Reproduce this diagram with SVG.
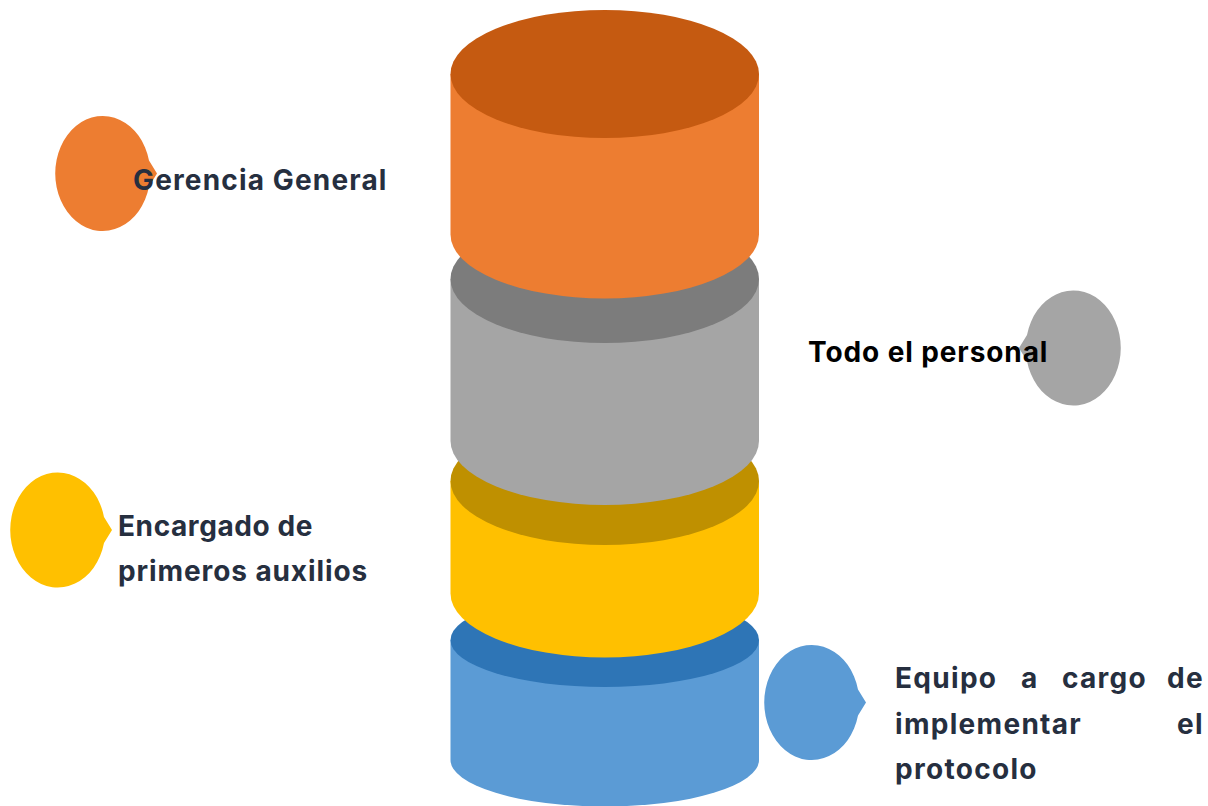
<svg xmlns="http://www.w3.org/2000/svg" width="1208" height="806" viewBox="0 0 1208 806">
<style>
.t{font-family:Inter,"Liberation Sans",sans-serif;font-weight:700;font-size:28px;letter-spacing:.9px;fill:#262f3f}
.k{fill:#000}
.e{letter-spacing:.6px}
.g{letter-spacing:1.15px}
.w{letter-spacing:1.3px}
</style>
<rect width="1208" height="806" fill="#fff"/>
<g id="connectors"/>
<g id="layer-blue">
<path d="M450.500 640V760A154.250 46.500 0 0 0 759 760V640Z" fill="#5b9bd5"/>
<ellipse cx="604.750" cy="640" rx="154.250" ry="47" fill="#2e75b6"/>
</g>
<g id="layer-yellow">
<path d="M450.500 481V593.500A154.250 64 0 0 0 759 593.500V481Z" fill="#ffc000"/>
<ellipse cx="604.750" cy="481" rx="154.250" ry="64" fill="#bf9000"/>
</g>
<g id="layer-gray">
<path d="M450.500 279V441A154.250 64 0 0 0 759 441V279Z" fill="#a5a5a5"/>
<ellipse cx="604.750" cy="279" rx="154.250" ry="64" fill="#7c7c7c"/>
</g>
<g id="layer-orange">
<path d="M450.500 74V234.500A154.250 64 0 0 0 759 234.500V74Z" fill="#ed7d31"/>
<ellipse cx="604.750" cy="74" rx="154.250" ry="64" fill="#c55a11"/>
</g>
<g id="bubble-orange">
<path d="M149 160.500A47.500 57.500 0 1 0 149 186.500L157 173.500Z" fill="#ed7d31"/>
<text class="t g" x="133" y="190">Gerencia General</text>
</g>
<g id="bubble-gray">
<path d="M1027 335A47.500 57.500 0 1 1 1027 361L1019 348Z" fill="#a5a5a5"/>
<text class="t k" x="808" y="362">Todo el personal</text>
</g>
<g id="bubble-yellow">
<path d="M104 517A47.500 57.500 0 1 0 104 543L112 530Z" fill="#ffc000"/>
<text class="t e" x="118" y="536">Encargado de</text>
<text class="t" x="118" y="581">primeros auxilios</text>
</g>
<g id="bubble-blue">
<path d="M858 689.500A47.500 57.500 0 1 0 858 715.500L866 702.500Z" fill="#5b9bd5"/>
<text class="t w" y="688"><tspan x="895">Equipo</tspan><tspan x="1021">a</tspan><tspan x="1062">cargo</tspan><tspan x="1167">de</tspan></text>
<text class="t w" y="734"><tspan x="895">implementar</tspan><tspan x="1177">el</tspan></text>
<text class="t w" x="895" y="779">protocolo</text>
</g>
</svg>
